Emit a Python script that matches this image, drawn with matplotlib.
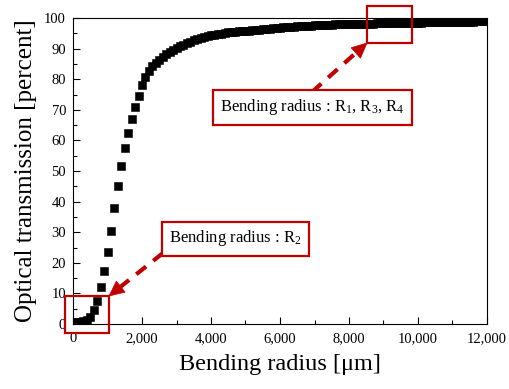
import numpy as np
import matplotlib
matplotlib.use("Agg")
import matplotlib.pyplot as plt
from matplotlib.lines import Line2D
from matplotlib.patches import Polygon, Rectangle

plt.rcParams['font.family'] = ['Liberation Serif', 'DejaVu Serif']
plt.rcParams['mathtext.fontset'] = 'custom'
plt.rcParams['mathtext.rm'] = 'Liberation Serif'
plt.rcParams['mathtext.it'] = 'Liberation Serif:italic'

# Bending radius [um], one point every 100 um
radius = np.arange(0, 12001, 100)

# Optical transmission [percent]
transmission = [
    0.6, 0.6, 0.7, 0.9, 1.3, 2.4, 4.6, 7.6, 12.2, 17.4,
    23.6, 30.4, 37.9, 45.0, 51.6, 57.4, 62.5, 67.0, 71.0, 74.6,
    78.0, 80.6, 82.6, 84.2, 85.4, 86.4, 87.3, 88.1, 88.9, 89.6,
    90.2, 90.8, 91.3, 91.8, 92.3, 92.8, 93.2, 93.5, 93.8, 94.0,
    94.3, 94.5, 94.7, 94.9, 95.1, 95.3, 95.4, 95.5, 95.6, 95.7,
    95.8, 95.9, 96.0, 96.1, 96.2, 96.3, 96.4, 96.5, 96.6, 96.7,
    96.8, 96.9, 97.0, 97.1, 97.2, 97.3, 97.3, 97.4, 97.5, 97.5,
    97.6, 97.6, 97.7, 97.7, 97.8, 97.8, 97.9, 97.9, 97.9, 98.0,
    98.0, 98.0, 98.1, 98.1, 98.1, 98.2, 98.2, 98.2, 98.3, 98.3,
    98.3, 98.3, 98.4, 98.4, 98.4, 98.4, 98.5, 98.5, 98.5, 98.5,
    98.5, 98.5, 98.6, 98.6, 98.6, 98.6, 98.7, 98.7, 98.7, 98.7,
    98.7, 98.7, 98.8, 98.8, 98.8, 98.8, 98.8, 98.9, 98.9, 98.9,
    99.0,
]

x_ticks = [0, 2000, 4000, 6000, 8000, 10000, 12000]
x_ticklabels = ['0', '2,000', '4,000', '6,000', '8,000', '10,000', '12,000']
y_ticks = [0, 10, 20, 30, 40, 50, 60, 70, 80, 90, 100]

RED = '#C00000'
W, H = 509, 389

fig = plt.figure(figsize=(W / 100, H / 100), dpi=100)
ax = fig.add_axes([73 / W, 1 - 324 / H, 414 / W, 306 / H])

ax.plot(radius, transmission, 's', color='black', markersize=5.8, mew=0.4)

ax.set_xlim(0, 12000)
ax.set_ylim(0, 100)
ax.set_xticks(x_ticks)
ax.set_xticklabels(x_ticklabels)
ax.set_xticks(np.arange(1000, 12000, 2000), minor=True)
ax.set_yticks(y_ticks)
ax.set_yticks(np.arange(5, 100, 10), minor=True)
ax.tick_params(which='both', direction='in', top=False, right=False, labelsize=10.5, width=0.8)
ax.tick_params(which='major', length=5)
ax.tick_params(which='minor', length=3)
ax.tick_params(axis='x', pad=6)
ax.tick_params(axis='y', pad=5)
for s in ax.spines.values():
    s.set_linewidth(0.8)

ax.set_xlabel('Bending radius [\u03bcm]', fontsize=17.5, labelpad=6)
ax.set_ylabel('Optical transmission [percent]', fontsize=18, labelpad=5)


# annotation helpers, positions in pixels from top-left
def fx(px):
    return px / W


def fy(py):
    return 1 - py / H


def red_box(x0, y0, x1, y1):
    fig.add_artist(Rectangle((fx(x0), fy(y1)), fx(x1) - fx(x0), fy(y0) - fy(y1),
                             transform=fig.transFigure, fill=False,
                             edgecolor=RED, linewidth=1.6))


def dashed_arrow(start, tip, head_len=15, head_w=14):
    sx, sy = start
    tx, ty = tip
    d = np.hypot(tx - sx, ty - sy)
    ux, uy = (tx - sx) / d, (ty - sy) / d
    bx, by = tx - ux * head_len, ty - uy * head_len
    fig.add_artist(Line2D([fx(sx), fx(bx)], [fy(sy), fy(by)], transform=fig.transFigure,
                          color=RED, linewidth=3, linestyle=(0, (3, 2.2)),
                          solid_capstyle='butt', dash_capstyle='butt'))
    nx, ny = -uy, ux
    pts = [(fx(tx), fy(ty)),
           (fx(bx + nx * head_w / 2), fy(by + ny * head_w / 2)),
           (fx(bx - nx * head_w / 2), fy(by - ny * head_w / 2))]
    fig.add_artist(Polygon(pts, closed=True, transform=fig.transFigure,
                           facecolor=RED, edgecolor=RED, linewidth=0.5))


red_box(65, 296, 109, 333)
red_box(367, 6, 412, 43)

fig.text(fx(312.5), fy(107.2), r'Bending radius : R$_\mathrm{1}$, R$_\mathrm{3}$, R$_\mathrm{4}$',
         fontsize=12, ha='center', va='center',
         bbox=dict(boxstyle='square,pad=0.45', facecolor='white', edgecolor=RED, linewidth=1.6))
fig.text(fx(235.5), fy(238.5), r'Bending radius : R$_\mathrm{2}$',
         fontsize=12, ha='center', va='center',
         bbox=dict(boxstyle='square,pad=0.42', facecolor='white', edgecolor=RED, linewidth=1.6))

dashed_arrow((312, 92), (367, 43))
dashed_arrow((163, 253), (109, 296))

fig.savefig('out.png', dpi=100)
